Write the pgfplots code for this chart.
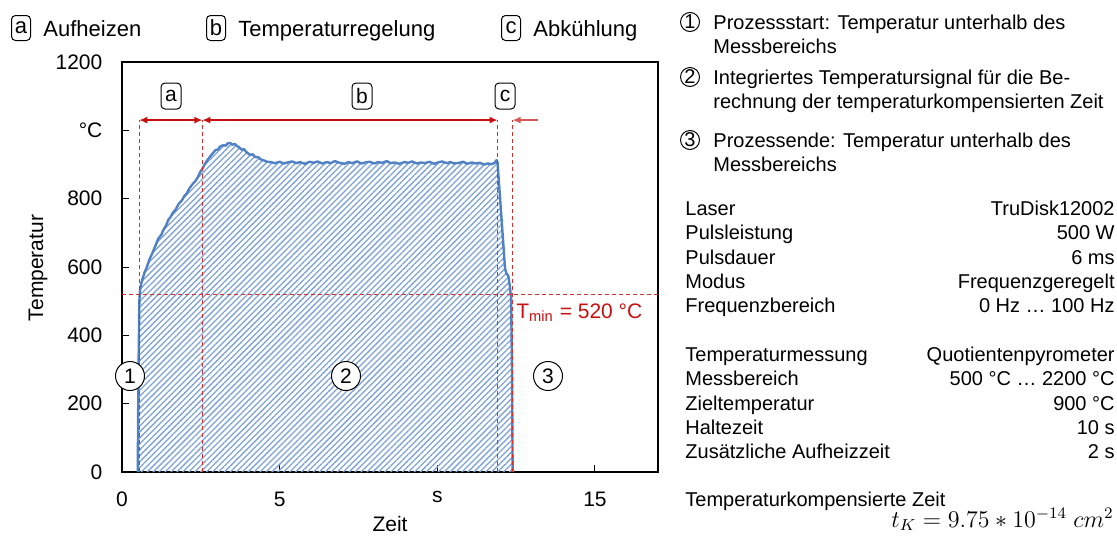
\documentclass[border=0pt]{standalone}
\usepackage{fontspec}
\setmainfont{Liberation Sans}
\usepackage{pgfplots}
\pgfplotsset{compat=1.18}
\usepackage{pgfplotstable}
\usetikzlibrary{patterns.meta,arrows.meta}
\definecolor{curve}{RGB}{79,129,196}
\definecolor{hatch}{RGB}{125,162,218}
\definecolor{myred}{RGB}{200,16,16}
\definecolor{dred}{RGB}{215,45,45}
\newcommand{\tk}{\fontsize{10.5}{12.5}\selectfont}
\newcommand{\hd}{\fontsize{11}{13}\selectfont}
\newcommand{\rt}{\fontsize{10}{12}\selectfont}

\pgfplotstableread{
t T
0.50 0
0.51 150
0.53 350
0.55 500
0.57 530
0.60 548
0.65 565
0.72 585
0.79 600
0.87 622
0.96 640
1.05 660
1.15 683
1.25 695
1.31 708
1.40 722
1.47 738
1.53 745
1.62 760
1.70 768
1.80 785
1.90 795
1.98 808
2.05 815
2.15 832
2.26 845
2.33 852
2.40 862
2.48 878
2.54 886
2.62 900
2.70 912
2.80 924
2.90 935
2.96 942
3.05 944
3.10 952
3.22 957
3.30 955
3.35 962
3.44 963
3.50 958
3.58 960
3.65 954
3.72 950
3.80 943
3.87 945
3.95 936
4.02 931
4.08 928
4.15 930
4.22 922
4.33 921
4.40 915
4.50 912
4.60 908
4.71 907
4.85 904
5.00 908
5.12 903
5.25 906
5.40 909
5.52 904
5.65 907
5.80 902
5.95 908
6.08 905
6.20 909
6.35 903
6.50 907
6.62 904
6.75 910
6.90 905
7.05 902
7.18 907
7.30 904
7.45 909
7.60 903
7.72 906
7.85 908
8.00 903
8.12 907
8.25 905
8.40 910
8.52 904
8.65 906
8.80 902
8.95 907
9.08 905
9.20 909
9.35 903
9.48 906
9.60 904
9.75 908
9.90 902
10.02 906
10.15 909
10.30 904
10.42 907
10.55 903
10.70 905
10.82 908
10.95 902
11.10 906
11.22 903
11.35 905
11.48 900
11.60 903
11.72 901
11.82 905
11.88 913
11.91 906
12.00 790
12.15 594
12.20 580
12.25 575
12.30 545
12.34 510
12.37 300
12.39 0
}\temp

\begin{document}
\begin{tikzpicture}
\path[use as bounding box] (0pt,0pt) rectangle (558.5pt,-268pt);
\clip (0pt,0pt) rectangle (558.5pt,-268pt);
\begin{axis}[
  at={(61pt,-236pt)}, anchor=south west,
  scale only axis, width=268pt, height=205pt,
  xmin=0, xmax=17, ymin=0, ymax=1200,
  xtick={0,5,10,15}, xticklabels={0,5,s,15},
  ytick={0,200,400,600,800,1000,1200},
  yticklabels={0,200,400,600,800,°C,1200},
  tick align=inside, tick pos=left,
  major tick length=3.5pt,
  axis line style={line width=0.6pt},
  tick style={black, line width=0.5pt},
  /pgf/number format/assume math mode=true,
  ticklabel style={font=\tk},
  xticklabel style={yshift=-6.3pt},
  yticklabel style={xshift=-6.3pt},
]
\addplot[draw=none, pattern={Lines[angle=45,distance=2.1pt,line width=0.65pt]}, pattern color=hatch] table[x=t,y=T] {\temp} \closedcycle;
\addplot[curve, line width=1.2pt, line join=round] table[x=t,y=T] {\temp};
% dashed guides
\draw[dred, line width=0.5pt, dash pattern=on 2pt off 1.5pt] (axis cs:0,520) -- (axis cs:17,520);
\draw[dred, line width=0.5pt, dash pattern=on 2pt off 1.5pt] (axis cs:0.55,0) -- (axis cs:0.55,1030);
\draw[dred, line width=0.5pt, dash pattern=on 2pt off 1.5pt] (axis cs:2.55,0) -- (axis cs:2.55,1030);
\draw[dred, line width=0.5pt, dash pattern=on 2pt off 1.5pt] (axis cs:11.91,0) -- (axis cs:11.91,1030);
\draw[dred, line width=0.5pt, dash pattern=on 2pt off 1.5pt] (axis cs:12.39,0) -- (axis cs:12.39,1030);
% dimension arrows
\draw[myred, line width=0.6pt, {Latex[length=4pt,width=3.5pt]}-{Latex[length=4pt,width=3.5pt]}] (axis cs:0.55,1030) -- (axis cs:2.55,1030);
\draw[myred, line width=0.6pt, {Latex[length=4pt,width=3.5pt]}-{Latex[length=4pt,width=3.5pt]}] (axis cs:2.55,1030) -- (axis cs:11.91,1030);
\draw[myred!70, line width=0.6pt, -{Latex[length=4pt,width=3.5pt]}] (axis cs:13.2,1030) -- (axis cs:12.39,1030);
\end{axis}
\begin{scope}[x=0.5pt,y=-0.5pt]
% axis labels
\node[rotate=90, font=\tk] at (38,268) {Temperatur};
\node[anchor=base, font=\tk, inner sep=0pt] at (390,531) {Zeit};
% boxed labels in plot
\foreach \l/\xx in {a/171,b/362,c/505}{
  \node[draw, rounded corners=2pt, line width=0.5pt, minimum width=10pt, minimum height=13pt, inner sep=0pt, font=\tk] at (\xx,96) {\l};
}
% header
\foreach \l/\xx/\txt in {a/21/Aufheizen,b/216/Temperaturregelung,c/511/Abkühlung}{
  \node[draw, rounded corners=2pt, line width=0.5pt, minimum width=9.5pt, minimum height=12.5pt, inner sep=0pt, font=\hd] at (\xx,28) {\l};
  \node[anchor=base west, font=\hd, inner sep=0pt] at (\xx+22,36) {\txt};
}
% circled numbers in plot
\foreach \n/\xx in {1/130,2/346,3/548}{
  \node[draw, circle, fill=white, line width=0.5pt, minimum size=14.5pt, inner sep=0pt, font=\tk] at (\xx,376) {\n};
}
% Tmin
\node[anchor=base west, inner sep=0pt, text=myred, font=\fontsize{10.5}{12}\selectfont] at (516,318) {T\textsubscript{min} = 520 °C};
% right explanations
\foreach \n/\yy in {1/22,2/77,3/140}{
  \node[draw, circle, line width=0.5pt, minimum size=9.5pt, inner sep=0pt, font=\rt] at (690,\yy) {\n};
}
\node[anchor=base west, inner sep=0pt, font=\rt] at (713,29) {Prozessstart: Temperatur unterhalb des};
\node[anchor=base west, inner sep=0pt, font=\rt] at (713,53) {Messbereichs};
\node[anchor=base west, inner sep=0pt, font=\rt] at (713,84) {Integriertes Temperatursignal für die Be-};
\node[anchor=base west, inner sep=0pt, font=\rt] at (713,108) {rechnung der temperaturkompensierten Zeit};
\node[anchor=base west, inner sep=0pt, font=\rt] at (713,147) {Prozessende: Temperatur unterhalb des};
\node[anchor=base west, inner sep=0pt, font=\rt] at (713,171) {Messbereichs};
% table
\foreach \a/\b/\yy in {Laser/TruDisk12002/215, Pulsleistung/500 W/239, Pulsdauer/6 ms/264, Modus/Frequenzgeregelt/288, Frequenzbereich/0 Hz … 100 Hz/312, Temperaturmessung/Quotientenpyrometer/361, Messbereich/500 °C … 2200 °C/385, Zieltemperatur/900 °C/410, Haltezeit/10 s/434, Zusätzliche Aufheizzeit/2 s/458}{
  \node[anchor=base west, inner sep=0pt, font=\rt] at (685,\yy) {\a};
  \node[anchor=base east, inner sep=0pt, font=\rt] at (1115,\yy) {\b};
}
\node[anchor=base west, inner sep=0pt, font=\rt] at (685,506) {Temperaturkompensierte Zeit};
\node[anchor=base east, inner sep=0pt, font=\fontsize{11.5}{13}\selectfont] at (1114,527) {$t_K = 9.75 * 10^{-14}\ cm^2$};
\end{scope}
\end{tikzpicture}
\end{document}
